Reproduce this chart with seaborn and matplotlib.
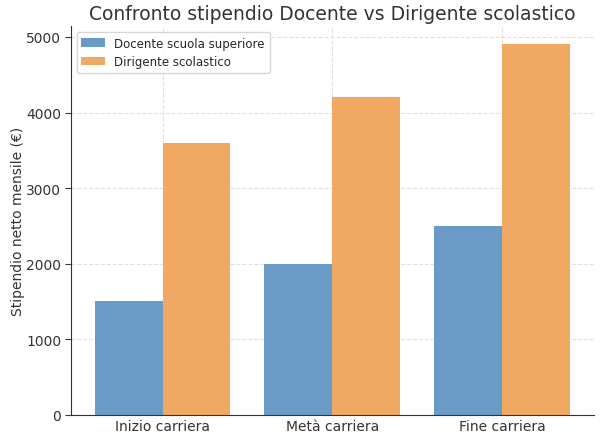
import pandas as pd
import seaborn as sns
import matplotlib.pyplot as plt

fasi = ["Inizio carriera", "Metà carriera", "Fine carriera"]
docente = [1500, 2000, 2500]
dirigente = [3600, 4200, 4900]

df = pd.DataFrame({
    "Fase": fasi * 2,
    "Stipendio": docente + dirigente,
    "Ruolo": ["Docente scuola superiore"] * 3 + ["Dirigente scolastico"] * 3,
})

sns.set_style("ticks")
plt.rcParams["font.family"] = ["DejaVu Sans"]

fig, ax = plt.subplots(figsize=(6, 4.35), dpi=100)

sns.barplot(
    data=df, x="Fase", y="Stipendio", hue="Ruolo",
    palette=["#6a9ac6", "#f0a862"], width=0.8, gap=0,
    saturation=1, linewidth=0, ax=ax, zorder=2,
)

ax.grid(True, linestyle="--", color="#e0e0e0", linewidth=0.8, zorder=0)
ax.set_axisbelow(True)
sns.despine(ax=ax)
ax.spines["left"].set_color("#333333")
ax.spines["bottom"].set_color("#333333")

ax.set_title("Confronto stipendio Docente vs Dirigente scolastico", fontsize=13.5, color="#333333", pad=5)
ax.set_xlabel("")
ax.set_ylabel("Stipendio netto mensile (€)", fontsize=10, color="#333333", labelpad=1)
ax.tick_params(axis="both", labelsize=10, colors="#333333")
ax.tick_params(axis="x", direction="in", length=4, pad=3)
ax.tick_params(axis="y", length=4, pad=3)
ax.set_yticks([0, 1000, 2000, 3000, 4000, 5000])
# same padding as plain matplotlib bars
ax.set_xlim(-0.54, 2.54)

ax.legend(title="", loc="upper left", fontsize=8.5, frameon=True)

fig.subplots_adjust(left=0.118, right=0.99, top=0.938, bottom=0.044)
fig.savefig("out.png", dpi=100)
